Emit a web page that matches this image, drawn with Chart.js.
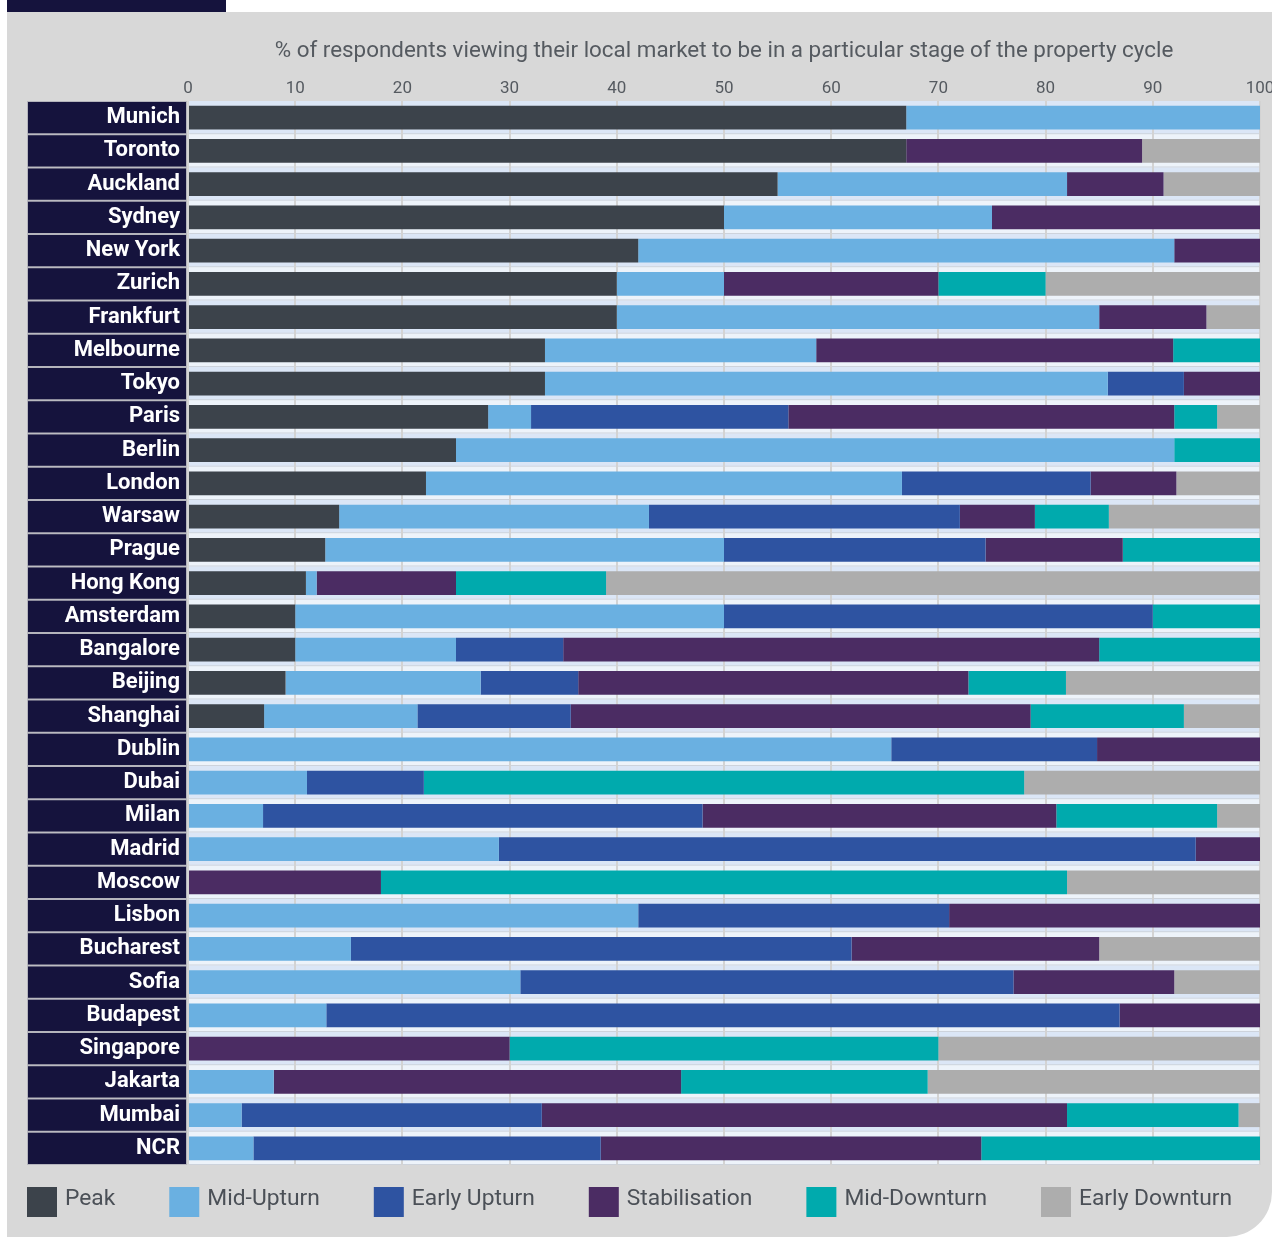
<!DOCTYPE html>
<html>
<head>
<meta charset="utf-8">
<script src="https://cdn.jsdelivr.net/npm/chart.js@4.4.0/dist/chart.umd.min.js"></script>
<style>
    html, body { margin: 0; padding: 0; background: #fff; }
</style>
</head>
<body>
<canvas id="myChart" width="1272" height="1237"></canvas>
<script>
// data (% of respondents)

const cities = ['Munich', 'Toronto', 'Auckland', 'Sydney', 'New York', 'Zurich', 'Frankfurt', 'Melbourne',
    'Tokyo', 'Paris', 'Berlin', 'London', 'Warsaw', 'Prague', 'Hong Kong', 'Amsterdam', 'Bangalore',
    'Beijing', 'Shanghai', 'Dublin', 'Dubai', 'Milan', 'Madrid', 'Moscow', 'Lisbon', 'Bucharest',
    'Sofia', 'Budapest', 'Singapore', 'Jakarta', 'Mumbai', 'NCR']

const peak = [67, 67, 55, 50, 42, 40, 40, 33.3, 33.3, 28, 25, 22.2, 14.1, 12.8, 11, 10, 10, 9.1, 7.1,
    0, 0, 0, 0, 0, 0, 0, 0, 0, 0, 0, 0, 0]
const midUpturn = [33, 0, 27, 25, 50, 10, 45, 25.3, 52.5, 4, 67, 44.4, 28.9, 37.2, 1, 40, 15, 18.2, 14.3,
    65.6, 11.1, 7, 29, 0, 42, 15.2, 31, 12.9, 0, 8, 5, 6.1]
const earlyUpturn = [0, 0, 0, 0, 0, 0, 0, 0, 7.1, 24, 0, 17.6, 29, 24.4, 0, 40, 10, 9.1, 14.3,
    19.2, 10.9, 41, 65, 0, 29, 46.7, 46, 74, 0, 0, 28, 32.4]
const stabilisation = [0, 22, 9, 25, 8, 20, 10, 33.3, 7.1, 36, 0, 8, 7, 12.8, 13, 0, 50, 36.4, 42.9,
    15.2, 0, 33, 6, 18, 29, 23.1, 15, 13.1, 30, 38, 49, 35.5]
const midDownturn = [0, 0, 0, 0, 0, 10, 0, 8.1, 0, 4, 8, 0, 6.9, 12.8, 14, 10, 15, 9.1, 14.3,
    0, 56, 15, 0, 64, 0, 0, 0, 0, 40, 23, 16, 26]
const earlyDownturn = [0, 11, 9, 0, 0, 20, 5, 0, 0, 4, 0, 7.8, 14.1, 0, 61, 0, 0, 18.2, 7.1,
    0, 22, 4, 0, 18, 0, 15, 8, 0, 30, 31, 2, 0]

const xTicks = [0, 10, 20, 30, 40, 50, 60, 70, 80, 90, 100]

const FONT = 'Roboto'
const NAVY = '#15133d'
const BG = '#d8d8d8'

// page frame, label boxes and row stripes

const framePlugin = {
    id: 'frame',
    beforeDraw(chart) {
        const c = chart.ctx
        const W = chart.width, H = chart.height, r = 45
        c.save()
        c.fillStyle = '#fff'
        c.fillRect(0, 0, W, H)
        c.fillStyle = NAVY
        c.fillRect(7, 0, 219, 12)
        c.fillStyle = BG
        c.beginPath()
        c.moveTo(7, 12)
        c.lineTo(W, 12)
        c.lineTo(W, H - r)
        c.arcTo(W, H, W - r, H, r)
        c.lineTo(7, H)
        c.closePath()
        c.fill()

        const y = chart.scales.y
        const area = chart.chartArea
        const step = (area.bottom - area.top) / cities.length
        cities.forEach((name, i) => {
            const cy = y.getPixelForValue(i)
            const top = cy - step / 2
            // label cell
            c.fillStyle = '#b4b4bc'
            c.fillRect(27, top, 160, step)
            c.fillStyle = NAVY
            c.fillRect(28, top + 1, 158, step - 2)
            // row cell
            c.fillStyle = i % 2 === 0 ? '#dbe6f6' : '#edf3fa'
            c.fillRect(area.left, top, area.right - area.left, step)
            c.fillStyle = '#cdd3dc'
            c.fillRect(area.left, top + step - 1, area.right - area.left, 1)
        })
        c.restore()
    },
    afterDraw(chart) {
        // legend row under the chart
        const c = chart.ctx
        c.save()
        c.font = '22.8px ' + FONT
        c.textBaseline = 'middle'
        let x = 27
        chart.data.datasets.forEach(ds => {
            c.fillStyle = ds.backgroundColor
            c.fillRect(x, 1187, 30, 30)
            c.fillStyle = '#4b5057'
            c.fillText(ds.label, x + 38, 1199)
            x += 38 + c.measureText(ds.label).width + 54
        })
        c.restore()
    }
}

const ctx = document.getElementById('myChart').getContext('2d')
const myChart = new Chart(ctx, {
    type: 'bar',
    data: {
        labels: cities,
        datasets: [
            { label: 'Peak', data: peak, backgroundColor: '#3c434b' },
            { label: 'Mid-Upturn', data: midUpturn, backgroundColor: '#6ab0e1' },
            { label: 'Early Upturn', data: earlyUpturn, backgroundColor: '#2e53a1' },
            { label: 'Stabilisation', data: stabilisation, backgroundColor: '#4b2c63' },
            { label: 'Mid-Downturn', data: midDownturn, backgroundColor: '#00aaad' },
            { label: 'Early Downturn', data: earlyDownturn, backgroundColor: '#adadad' }
        ]
    },
    options: {
        responsive: false,
        animation: false,
        indexAxis: 'y',
        categoryPercentage: 1,
        barPercentage: 0.72,
        layout: { padding: { left: 27, right: 12, top: 14, bottom: 72 } },
        plugins: {
            legend: { display: false },
            tooltip: { enabled: false }
        },
        scales: {
            x: {
                position: 'top',
                stacked: true,
                min: 0,
                max: 100,
                afterFit: s => {
                    s.height = 87
                    s.paddingLeft = 0
                    s.paddingRight = 0
                },
                afterBuildTicks: s => { s.ticks = xTicks.map(v => ({ value: v })) },
                grid: { color: '#d3d3d3', lineWidth: 2, drawTicks: false },
                border: { display: false },
                ticks: { color: '#555a60', font: { family: FONT, size: 17 }, padding: 2 },
                title: {
                    display: true,
                    text: '% of respondents viewing their local market to be in a particular stage of the property cycle',
                    color: '#555a60',
                    font: { family: FONT, size: 22.4 },
                    padding: { top: 24, bottom: 0 }
                }
            },
            y: {
                stacked: true,
                afterFit: s => { s.width = 161 },
                grid: { display: false, drawTicks: false },
                border: { display: false },
                ticks: { color: '#fff', font: { family: FONT, size: 22, weight: 'bold' }, padding: 8 }
            }
        }
    },
    plugins: [framePlugin]
})
</script>
</body>
</html>
